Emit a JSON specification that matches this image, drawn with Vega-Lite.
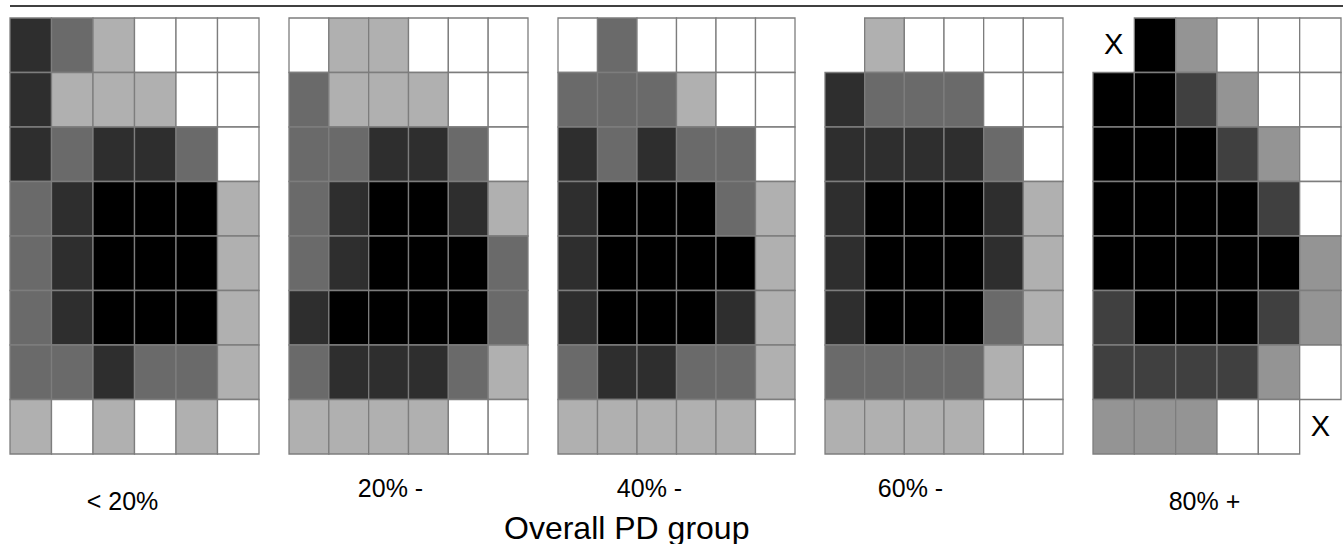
{
  "$schema": "https://vega.github.io/schema/vega-lite/v6.json",
  "padding": {"left": 9, "top": 5, "right": 0, "bottom": 0},
  "background": "white",
  "config": {"view": {"stroke": null}, "font": "Liberation Sans"},
  "title": {"text": "Overall PD group", "orient": "bottom", "anchor": "start", "frame": "group", "dx": 494, "offset": 0, "fontSize": 32, "font": "Liberation Sans", "fontWeight": "normal", "color": "#000000"},
  "datasets": {
    "p1": [
      {"r":0,"c":0,"s":"d"},{"r":0,"c":1,"s":"m"},{"r":0,"c":2,"s":"l"},{"r":0,"c":3,"s":"w"},{"r":0,"c":4,"s":"w"},{"r":0,"c":5,"s":"w"},
      {"r":1,"c":0,"s":"d"},{"r":1,"c":1,"s":"l"},{"r":1,"c":2,"s":"l"},{"r":1,"c":3,"s":"l"},{"r":1,"c":4,"s":"w"},{"r":1,"c":5,"s":"w"},
      {"r":2,"c":0,"s":"d"},{"r":2,"c":1,"s":"m"},{"r":2,"c":2,"s":"d"},{"r":2,"c":3,"s":"d"},{"r":2,"c":4,"s":"m"},{"r":2,"c":5,"s":"w"},
      {"r":3,"c":0,"s":"m"},{"r":3,"c":1,"s":"d"},{"r":3,"c":2,"s":"k"},{"r":3,"c":3,"s":"k"},{"r":3,"c":4,"s":"k"},{"r":3,"c":5,"s":"l"},
      {"r":4,"c":0,"s":"m"},{"r":4,"c":1,"s":"d"},{"r":4,"c":2,"s":"k"},{"r":4,"c":3,"s":"k"},{"r":4,"c":4,"s":"k"},{"r":4,"c":5,"s":"l"},
      {"r":5,"c":0,"s":"m"},{"r":5,"c":1,"s":"d"},{"r":5,"c":2,"s":"k"},{"r":5,"c":3,"s":"k"},{"r":5,"c":4,"s":"k"},{"r":5,"c":5,"s":"l"},
      {"r":6,"c":0,"s":"m"},{"r":6,"c":1,"s":"m"},{"r":6,"c":2,"s":"d"},{"r":6,"c":3,"s":"m"},{"r":6,"c":4,"s":"m"},{"r":6,"c":5,"s":"l"},
      {"r":7,"c":0,"s":"l"},{"r":7,"c":1,"s":"w"},{"r":7,"c":2,"s":"l"},{"r":7,"c":3,"s":"w"},{"r":7,"c":4,"s":"l"},{"r":7,"c":5,"s":"w"}
    ],
    "p2": [
      {"r":0,"c":0,"s":"w"},{"r":0,"c":1,"s":"l"},{"r":0,"c":2,"s":"l"},{"r":0,"c":3,"s":"w"},{"r":0,"c":4,"s":"w"},{"r":0,"c":5,"s":"w"},
      {"r":1,"c":0,"s":"m"},{"r":1,"c":1,"s":"l"},{"r":1,"c":2,"s":"l"},{"r":1,"c":3,"s":"l"},{"r":1,"c":4,"s":"w"},{"r":1,"c":5,"s":"w"},
      {"r":2,"c":0,"s":"m"},{"r":2,"c":1,"s":"m"},{"r":2,"c":2,"s":"d"},{"r":2,"c":3,"s":"d"},{"r":2,"c":4,"s":"m"},{"r":2,"c":5,"s":"w"},
      {"r":3,"c":0,"s":"m"},{"r":3,"c":1,"s":"d"},{"r":3,"c":2,"s":"k"},{"r":3,"c":3,"s":"k"},{"r":3,"c":4,"s":"d"},{"r":3,"c":5,"s":"l"},
      {"r":4,"c":0,"s":"m"},{"r":4,"c":1,"s":"d"},{"r":4,"c":2,"s":"k"},{"r":4,"c":3,"s":"k"},{"r":4,"c":4,"s":"k"},{"r":4,"c":5,"s":"m"},
      {"r":5,"c":0,"s":"d"},{"r":5,"c":1,"s":"k"},{"r":5,"c":2,"s":"k"},{"r":5,"c":3,"s":"k"},{"r":5,"c":4,"s":"k"},{"r":5,"c":5,"s":"m"},
      {"r":6,"c":0,"s":"m"},{"r":6,"c":1,"s":"d"},{"r":6,"c":2,"s":"d"},{"r":6,"c":3,"s":"d"},{"r":6,"c":4,"s":"m"},{"r":6,"c":5,"s":"l"},
      {"r":7,"c":0,"s":"l"},{"r":7,"c":1,"s":"l"},{"r":7,"c":2,"s":"l"},{"r":7,"c":3,"s":"l"},{"r":7,"c":4,"s":"w"},{"r":7,"c":5,"s":"w"}
    ],
    "p3": [
      {"r":0,"c":0,"s":"w"},{"r":0,"c":1,"s":"m"},{"r":0,"c":2,"s":"w"},{"r":0,"c":3,"s":"w"},{"r":0,"c":4,"s":"w"},{"r":0,"c":5,"s":"w"},
      {"r":1,"c":0,"s":"m"},{"r":1,"c":1,"s":"m"},{"r":1,"c":2,"s":"m"},{"r":1,"c":3,"s":"l"},{"r":1,"c":4,"s":"w"},{"r":1,"c":5,"s":"w"},
      {"r":2,"c":0,"s":"d"},{"r":2,"c":1,"s":"m"},{"r":2,"c":2,"s":"d"},{"r":2,"c":3,"s":"m"},{"r":2,"c":4,"s":"m"},{"r":2,"c":5,"s":"w"},
      {"r":3,"c":0,"s":"d"},{"r":3,"c":1,"s":"k"},{"r":3,"c":2,"s":"k"},{"r":3,"c":3,"s":"k"},{"r":3,"c":4,"s":"m"},{"r":3,"c":5,"s":"l"},
      {"r":4,"c":0,"s":"d"},{"r":4,"c":1,"s":"k"},{"r":4,"c":2,"s":"k"},{"r":4,"c":3,"s":"k"},{"r":4,"c":4,"s":"k"},{"r":4,"c":5,"s":"l"},
      {"r":5,"c":0,"s":"d"},{"r":5,"c":1,"s":"k"},{"r":5,"c":2,"s":"k"},{"r":5,"c":3,"s":"k"},{"r":5,"c":4,"s":"d"},{"r":5,"c":5,"s":"l"},
      {"r":6,"c":0,"s":"m"},{"r":6,"c":1,"s":"d"},{"r":6,"c":2,"s":"d"},{"r":6,"c":3,"s":"m"},{"r":6,"c":4,"s":"m"},{"r":6,"c":5,"s":"l"},
      {"r":7,"c":0,"s":"l"},{"r":7,"c":1,"s":"l"},{"r":7,"c":2,"s":"l"},{"r":7,"c":3,"s":"l"},{"r":7,"c":4,"s":"l"},{"r":7,"c":5,"s":"w"}
    ],
    "p4": [
      {"r":0,"c":1,"s":"l"},{"r":0,"c":2,"s":"w"},{"r":0,"c":3,"s":"w"},{"r":0,"c":4,"s":"w"},{"r":0,"c":5,"s":"w"},
      {"r":1,"c":0,"s":"d"},{"r":1,"c":1,"s":"m"},{"r":1,"c":2,"s":"m"},{"r":1,"c":3,"s":"m"},{"r":1,"c":4,"s":"w"},{"r":1,"c":5,"s":"w"},
      {"r":2,"c":0,"s":"d"},{"r":2,"c":1,"s":"d"},{"r":2,"c":2,"s":"d"},{"r":2,"c":3,"s":"d"},{"r":2,"c":4,"s":"m"},{"r":2,"c":5,"s":"w"},
      {"r":3,"c":0,"s":"d"},{"r":3,"c":1,"s":"k"},{"r":3,"c":2,"s":"k"},{"r":3,"c":3,"s":"k"},{"r":3,"c":4,"s":"d"},{"r":3,"c":5,"s":"l"},
      {"r":4,"c":0,"s":"d"},{"r":4,"c":1,"s":"k"},{"r":4,"c":2,"s":"k"},{"r":4,"c":3,"s":"k"},{"r":4,"c":4,"s":"d"},{"r":4,"c":5,"s":"l"},
      {"r":5,"c":0,"s":"d"},{"r":5,"c":1,"s":"k"},{"r":5,"c":2,"s":"k"},{"r":5,"c":3,"s":"k"},{"r":5,"c":4,"s":"m"},{"r":5,"c":5,"s":"l"},
      {"r":6,"c":0,"s":"m"},{"r":6,"c":1,"s":"m"},{"r":6,"c":2,"s":"m"},{"r":6,"c":3,"s":"m"},{"r":6,"c":4,"s":"l"},{"r":6,"c":5,"s":"w"},
      {"r":7,"c":0,"s":"l"},{"r":7,"c":1,"s":"l"},{"r":7,"c":2,"s":"l"},{"r":7,"c":3,"s":"l"},{"r":7,"c":4,"s":"w"},{"r":7,"c":5,"s":"w"}
    ],
    "p5": [
      {"r":0,"c":1,"s":"k"},{"r":0,"c":2,"s":"L"},{"r":0,"c":3,"s":"w"},{"r":0,"c":4,"s":"w"},{"r":0,"c":5,"s":"w"},
      {"r":1,"c":0,"s":"k"},{"r":1,"c":1,"s":"k"},{"r":1,"c":2,"s":"D"},{"r":1,"c":3,"s":"L"},{"r":1,"c":4,"s":"w"},{"r":1,"c":5,"s":"w"},
      {"r":2,"c":0,"s":"k"},{"r":2,"c":1,"s":"k"},{"r":2,"c":2,"s":"k"},{"r":2,"c":3,"s":"D"},{"r":2,"c":4,"s":"L"},{"r":2,"c":5,"s":"w"},
      {"r":3,"c":0,"s":"k"},{"r":3,"c":1,"s":"k"},{"r":3,"c":2,"s":"k"},{"r":3,"c":3,"s":"k"},{"r":3,"c":4,"s":"D"},{"r":3,"c":5,"s":"w"},
      {"r":4,"c":0,"s":"k"},{"r":4,"c":1,"s":"k"},{"r":4,"c":2,"s":"k"},{"r":4,"c":3,"s":"k"},{"r":4,"c":4,"s":"k"},{"r":4,"c":5,"s":"L"},
      {"r":5,"c":0,"s":"D"},{"r":5,"c":1,"s":"k"},{"r":5,"c":2,"s":"k"},{"r":5,"c":3,"s":"k"},{"r":5,"c":4,"s":"D"},{"r":5,"c":5,"s":"L"},
      {"r":6,"c":0,"s":"D"},{"r":6,"c":1,"s":"D"},{"r":6,"c":2,"s":"D"},{"r":6,"c":3,"s":"D"},{"r":6,"c":4,"s":"L"},{"r":6,"c":5,"s":"w"},
      {"r":7,"c":0,"s":"L"},{"r":7,"c":1,"s":"L"},{"r":7,"c":2,"s":"L"},{"r":7,"c":3,"s":"w"},{"r":7,"c":4,"s":"w"}
    ],
    "x5": [
      {"r":0,"c":0,"t":"X"},
      {"r":7,"c":5,"t":"X"}
    ]
  },
  "vconcat": [
    {
      "width": 1334,
      "height": 12,
      "data": {"values": [{}]},
      "mark": {"type": "rule", "color": "#000000", "strokeWidth": 1.5},
      "encoding": {"y": {"datum": 1, "type": "quantitative", "scale": {"domain": [0, 1]}, "axis": null}}
    },
    {
      "hconcat": [
        {
          "width": 249, "height": 436,
          "data": {"name": "p1"},
          "mark": {"type": "rect", "stroke": "#7d7d7d", "strokeWidth": 1.3},
          "encoding": {
            "x": {"field": "c", "type": "ordinal", "scale": {"domain": [0,1,2,3,4,5], "paddingInner": 0, "paddingOuter": 0},
                  "axis": {"title": "< 20%", "labels": false, "ticks": false, "domain": false, "titleX": 112, "titleY": 55, "titleFontSize": 25, "titleFont": "Liberation Sans", "titleFontWeight": "normal", "titleBaseline": "alphabetic", "titleColor": "#000000"}},
            "y": {"field": "r", "type": "ordinal", "scale": {"domain": [0,1,2,3,4,5,6,7], "paddingInner": 0, "paddingOuter": 0}, "axis": null},
            "color": {"field": "s", "type": "nominal", "scale": {"domain": ["k","d","m","l","w","D","L"], "range": ["#000000","#2e2e2e","#6a6a6a","#b0b0b0","#ffffff","#404040","#949494"]}, "legend": null}
          }
        },
        {
          "width": 239, "height": 436,
          "data": {"name": "p2"},
          "mark": {"type": "rect", "stroke": "#7d7d7d", "strokeWidth": 1.3},
          "encoding": {
            "x": {"field": "c", "type": "ordinal", "scale": {"domain": [0,1,2,3,4,5], "paddingInner": 0, "paddingOuter": 0},
                  "axis": {"title": "20% -", "labels": false, "ticks": false, "domain": false, "titleX": 101, "titleY": 42, "titleFontSize": 25, "titleFont": "Liberation Sans", "titleFontWeight": "normal", "titleBaseline": "alphabetic", "titleColor": "#000000"}},
            "y": {"field": "r", "type": "ordinal", "scale": {"domain": [0,1,2,3,4,5,6,7], "paddingInner": 0, "paddingOuter": 0}, "axis": null},
            "color": {"field": "s", "type": "nominal", "scale": {"domain": ["k","d","m","l","w","D","L"], "range": ["#000000","#2e2e2e","#6a6a6a","#b0b0b0","#ffffff","#404040","#949494"]}, "legend": null}
          }
        },
        {
          "width": 237, "height": 436,
          "data": {"name": "p3"},
          "mark": {"type": "rect", "stroke": "#7d7d7d", "strokeWidth": 1.3},
          "encoding": {
            "x": {"field": "c", "type": "ordinal", "scale": {"domain": [0,1,2,3,4,5], "paddingInner": 0, "paddingOuter": 0},
                  "axis": {"title": "40% -", "labels": false, "ticks": false, "domain": false, "titleX": 91, "titleY": 42, "titleFontSize": 25, "titleFont": "Liberation Sans", "titleFontWeight": "normal", "titleBaseline": "alphabetic", "titleColor": "#000000"}},
            "y": {"field": "r", "type": "ordinal", "scale": {"domain": [0,1,2,3,4,5,6,7], "paddingInner": 0, "paddingOuter": 0}, "axis": null},
            "color": {"field": "s", "type": "nominal", "scale": {"domain": ["k","d","m","l","w","D","L"], "range": ["#000000","#2e2e2e","#6a6a6a","#b0b0b0","#ffffff","#404040","#949494"]}, "legend": null}
          }
        },
        {
          "width": 238, "height": 436,
          "data": {"name": "p4"},
          "mark": {"type": "rect", "stroke": "#7d7d7d", "strokeWidth": 1.3},
          "encoding": {
            "x": {"field": "c", "type": "ordinal", "scale": {"domain": [0,1,2,3,4,5], "paddingInner": 0, "paddingOuter": 0},
                  "axis": {"title": "60% -", "labels": false, "ticks": false, "domain": false, "titleX": 85, "titleY": 42, "titleFontSize": 25, "titleFont": "Liberation Sans", "titleFontWeight": "normal", "titleBaseline": "alphabetic", "titleColor": "#000000"}},
            "y": {"field": "r", "type": "ordinal", "scale": {"domain": [0,1,2,3,4,5,6,7], "paddingInner": 0, "paddingOuter": 0}, "axis": null},
            "color": {"field": "s", "type": "nominal", "scale": {"domain": ["k","d","m","l","w","D","L"], "range": ["#000000","#2e2e2e","#6a6a6a","#b0b0b0","#ffffff","#404040","#949494"]}, "legend": null}
          }
        },
        {
          "width": 248, "height": 436,
          "layer": [
            {
              "data": {"name": "p5"},
              "mark": {"type": "rect", "stroke": "#7d7d7d", "strokeWidth": 1.3},
              "encoding": {
                "x": {"field": "c", "type": "ordinal", "scale": {"domain": [0,1,2,3,4,5], "paddingInner": 0, "paddingOuter": 0},
                      "axis": {"title": "80% +", "labels": false, "ticks": false, "domain": false, "titleX": 111, "titleY": 55, "titleFontSize": 25, "titleFont": "Liberation Sans", "titleFontWeight": "normal", "titleBaseline": "alphabetic", "titleColor": "#000000"}},
                "y": {"field": "r", "type": "ordinal", "scale": {"domain": [0,1,2,3,4,5,6,7], "paddingInner": 0, "paddingOuter": 0}, "axis": null},
                "color": {"field": "s", "type": "nominal", "scale": {"domain": ["k","d","m","l","w","D","L"], "range": ["#000000","#2e2e2e","#6a6a6a","#b0b0b0","#ffffff","#404040","#949494"]}, "legend": null}
              }
            },
            {
              "data": {"name": "x5"},
              "mark": {"type": "text", "fontSize": 29, "font": "Liberation Sans", "color": "#000000", "align": "center", "baseline": "middle"},
              "encoding": {
                "x": {"field": "c", "type": "ordinal"},
                "y": {"field": "r", "type": "ordinal"},
                "text": {"field": "t"}
              }
            }
          ]
        }
      ],
      "spacing": 30,
      "bounds": "flush"
    }
  ],
  "spacing": 0,
  "bounds": "flush"
}
